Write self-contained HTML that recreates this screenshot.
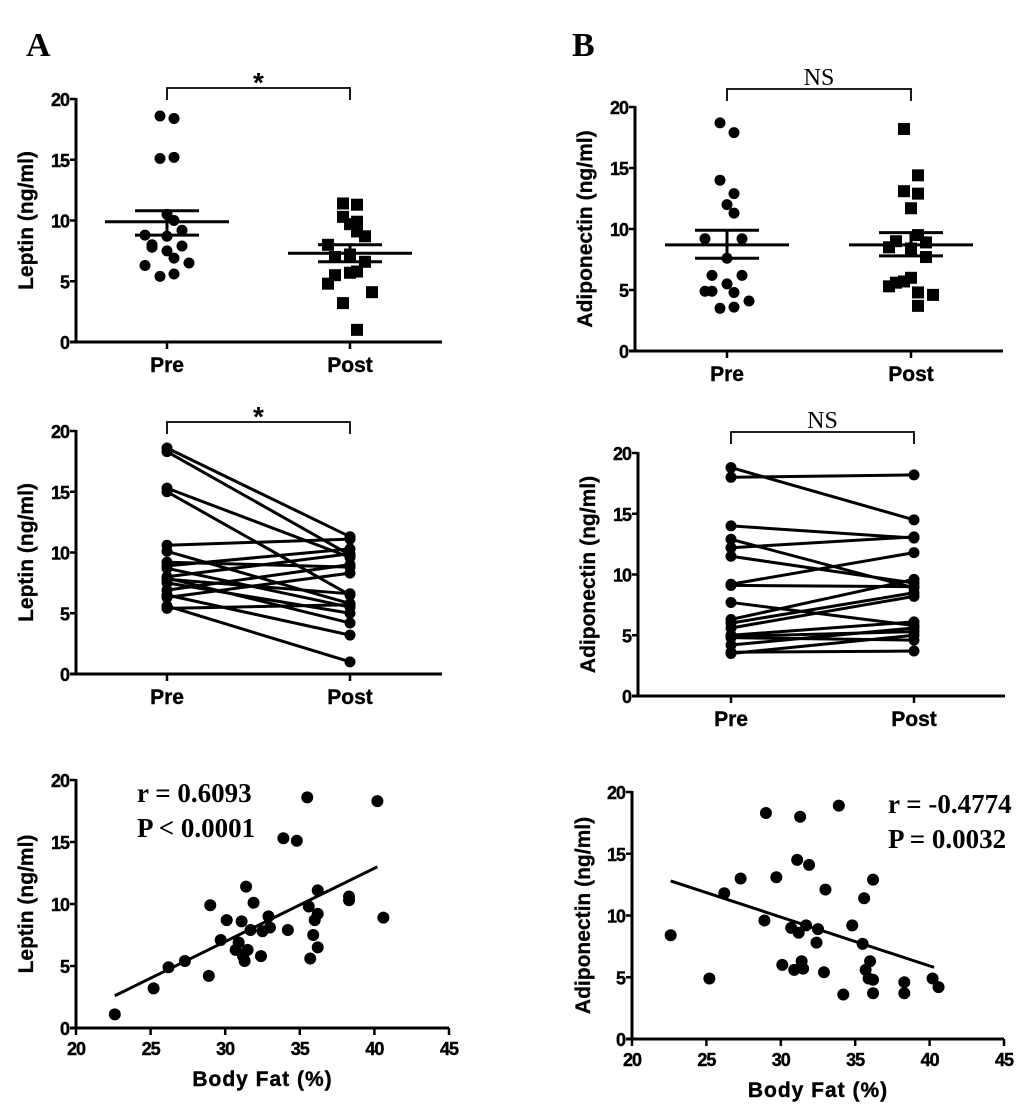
<!DOCTYPE html>
<html><head><meta charset="utf-8">
<style>
html,body{margin:0;padding:0;background:#fff;}
svg{display:block;}
.tk{font-family:"Liberation Sans",sans-serif;font-weight:bold;font-size:18px;fill:#000;letter-spacing:-1px;stroke:#000;stroke-width:0.4;}
.cat{font-family:"Liberation Sans",sans-serif;font-weight:bold;font-size:21px;fill:#000;stroke:#000;stroke-width:0.4;}
.yt{font-family:"Liberation Sans",sans-serif;font-weight:bold;font-size:21px;fill:#000;stroke:#000;stroke-width:0.3;}
.sig{font-family:"Liberation Serif",serif;font-size:24px;fill:#000;}
.star{font-family:"Liberation Sans",sans-serif;font-weight:bold;font-size:28px;fill:#000;}
.stat{font-family:"Liberation Serif",serif;font-weight:bold;font-size:27px;fill:#000;}
.pl{font-family:"Liberation Serif",serif;font-weight:bold;font-size:34px;fill:#000;}
</style></head>
<body>
<svg id="fig" width="1033" height="1107" viewBox="0 0 1033 1107" xmlns="http://www.w3.org/2000/svg">
<text class="pl" x="26" y="56">A</text>
<text class="pl" x="572" y="56">B</text>
</svg>
<script>
// ---------- Data ----------
const categories = ["Pre", "Post"];
const yTicks = [0, 5, 10, 15, 20];
const xTicks = [20, 25, 30, 35, 40, 45];

const leptinPre = [18.6,18.4,15.1,15.2,10.5,10.0,9.2,8.8,8.7,8.0,7.9,7.5,7.8,6.9,6.3,6.5,5.4,5.6];
const leptinPost = [11.4,11.3,10.3,9.9,9.7,9.1,8.7,8.0,7.2,7.0,6.6,5.7,5.5,5.8,4.8,4.1,3.2,1.0];
const leptinMean = [9.9, 7.3];
const leptinSemLow = [8.8, 6.6];
const leptinSemHigh = [10.8, 8.0];

const leptinPairPre  = [18.6,18.3,15.3,15.0,10.6,10.1,9.2,8.9,8.7,8.0,7.9,7.8,7.5,6.9,6.3,6.5,5.6,5.4];
const leptinPairPost = [11.3,9.8,9.6,6.5,11.1,5.8,8.8,10.3,5.5,9.9,4.2,6.6,5.0,9.0,8.3,3.2,1.0,5.7];

const adipoPre = [18.7,17.9,14.0,12.9,12.0,11.3,9.2,9.2,7.6,6.2,6.2,5.5,4.9,4.8,4.9,4.1,3.5,3.6];
const adipoPost = [18.2,14.4,13.1,12.9,11.7,9.5,8.9,8.5,8.4,9.0,7.7,6.0,5.6,4.8,5.3,4.6,5.7,3.7];
const adipoMean = [8.7, 8.7];
const adipoSemLow = [7.6, 7.8];
const adipoSemHigh = [9.9, 9.7];

const adipoPairPre  = [18.8,18.0,14.0,12.9,12.2,11.5,9.2,9.1,7.7,6.3,6.0,5.6,5.0,4.9,4.8,4.2,3.6,3.5];
const adipoPairPost = [14.5,18.2,13.0,8.9,13.1,9.3,11.8,9.0,5.8,9.6,8.5,8.2,6.1,5.3,4.6,5.6,3.7,5.0];

const bodyFat = [22.6,25.2,26.2,27.3,28.9,29.0,29.7,30.1,30.7,30.9,31.1,31.2,31.3,31.5,31.4,31.7,31.9,32.4,32.5,32.9,33.0,34.2,33.9,34.8,35.5,35.6,35.7,35.9,36.0,36.2,36.2,36.2,38.3,38.3,40.2,40.6];
const leptinCorr = [1.1,3.2,4.9,5.4,4.2,9.9,7.1,8.7,6.3,6.9,8.6,5.8,5.4,6.3,11.4,7.9,10.1,5.8,7.8,9.0,8.1,7.9,15.3,15.1,18.6,9.8,5.6,7.5,8.7,9.2,6.5,11.1,10.6,10.3,18.3,8.9];
const adipoCorr = [8.4,4.9,11.8,13.0,9.6,18.3,13.1,6.0,9.0,5.6,14.5,8.6,18.0,5.7,6.3,9.2,14.1,7.8,8.9,5.4,12.1,3.6,18.9,9.2,7.7,11.4,5.6,4.9,6.3,4.8,3.7,12.9,4.6,3.7,4.9,4.2];
const leptinFitX = [22.6, 40.2];
const leptinFitY = [2.6, 13.0];
const adipoFitX = [22.6, 40.3];
const adipoFitY = [12.8, 5.8];

// ---------- Helpers ----------
const NS = "http://www.w3.org/2000/svg";
const svg = document.getElementById("fig");
function mk(tag, attrs, parent) {
  const e = document.createElementNS(NS, tag);
  for (const k in attrs) e.setAttribute(k, attrs[k]);
  (parent || svg).appendChild(e);
  return e;
}
function yScale(p) { return v => p.y0 + (p.y20 - p.y0) * v / 20; }

function drawYAxis(p, title, name) {
  const y = yScale(p);
  const g = mk("g", {});
  
  
  const ax = mk("line", {x1: p.ax, y1: p.y20 - 1, x2: p.ax, y2: p.y0 + 1.5, stroke: "#000", "stroke-width": 3}, g);
  
  
  yTicks.forEach(t => {
    const tl = mk("line", {x1: p.ax - 6, y1: y(t), x2: p.ax, y2: y(t), stroke: "#000", "stroke-width": 2.5}, g);
    
    
    const tx = mk("text", {class: "tk", x: p.ax - 7, y: y(t) + 7, "text-anchor": "end"}, g);
    tx.textContent = t;
    
    
  });
  const cy = (p.y0 + p.y20) / 2;
  const tt = mk("text", {class: "yt", x: p.titleX, y: cy, transform: `rotate(-90 ${p.titleX} ${cy})`, "text-anchor": "middle"}, g);
  tt.textContent = title;
  
  
}

function drawCatXAxis(p, name) {
  const g = mk("g", {});
  
  
  const ax = mk("line", {x1: p.ax - 6, y1: p.y0, x2: p.xEnd, y2: p.y0, stroke: "#000", "stroke-width": 3}, g);
  
  
  categories.forEach((c, i) => {
    const cx = p.cx[i];
    const tl = mk("line", {x1: cx, y1: p.y0, x2: cx, y2: p.y0 + 7, stroke: "#000", "stroke-width": 2.5}, g);
    
    
    const tx = mk("text", {class: "cat", x: cx, y: p.y0 + 30, "text-anchor": "middle"}, g);
    tx.textContent = c;
    
    
  });
}

function drawBracket(p, label, cls, name) {
  const g = mk("g", {});
  
  
  mk("path", {d: `M${p.cx[0]} ${p.by + 12} V${p.by} H${p.cx[1]} V${p.by + 12}`, fill: "none", stroke: "#000", "stroke-width": 1.8}, g);
  const t = mk("text", {class: cls, x: (p.cx[0] + p.cx[1]) / 2, y: cls === "star" ? p.by + 4 : p.by - 4, "text-anchor": "middle"}, g);
  t.textContent = label;
  
  
}

function dotPlot(p, vals, i, square, name) {
  const y = yScale(p);
  const g = mk("g", {});
  
  
  vals.forEach((v, k) => {
    const off = [-7, 7, -7, 7, 0, 7, 15, -22, 0, -15, 15, 0, -15, 7, -22, 22, -7, 7][k % 18];
    const cx = p.cx[i] + off;
    let m;
    if (square) m = mk("rect", {x: cx - 6, y: y(v) - 6, width: 12, height: 12, fill: "#000"}, g);
    else m = mk("circle", {cx: cx, cy: y(v), r: 5.5, fill: "#000"}, g);
    
    
  });
}

function meanSem(p, mean, lo, hi, name) {
  const y = yScale(p);
  const g = mk("g", {});
  
  
  categories.forEach((c, i) => {
    const cx = p.cx[i];
    const a = mk("line", {x1: cx - 62, x2: cx + 62, y1: y(mean[i]), y2: y(mean[i]), stroke: "#000", "stroke-width": 3}, g);
    
    
    const b = mk("line", {x1: cx - 32, x2: cx + 32, y1: y(hi[i]), y2: y(hi[i]), stroke: "#000", "stroke-width": 3}, g);
    
    
    const d = mk("line", {x1: cx - 32, x2: cx + 32, y1: y(lo[i]), y2: y(lo[i]), stroke: "#000", "stroke-width": 3}, g);
    
    
    const e = mk("line", {x1: cx, x2: cx, y1: y(lo[i]), y2: y(hi[i]), stroke: "#000", "stroke-width": 3}, g);
    
    
  });
}

function pairPlot(p, pre, post, name) {
  const y = yScale(p);
  const g = mk("g", {});
  
  
  pre.forEach((v, k) => {
    const l = mk("line", {x1: p.cx[0], y1: y(v), x2: p.cx[1], y2: y(post[k]), stroke: "#000", "stroke-width": 3}, g);
    
    
    const c1 = mk("circle", {cx: p.cx[0], cy: y(v), r: 5.5, fill: "#000"}, g);
    
    
    const c2 = mk("circle", {cx: p.cx[1], cy: y(post[k]), r: 5.5, fill: "#000"}, g);
    
    
  });
}

function scatter(p, xs, ys, fx, fy, title, stats, name) {
  const y = yScale(p);
  const x = v => p.x20 + (p.x45 - p.x20) * (v - 20) / 25;
  drawYAxis({ax: p.x20, y0: p.y0, y20: p.y20, titleX: p.titleX}, title, name);
  const g = mk("g", {});
  
  
  const ax = mk("line", {x1: p.x20 - 6, y1: p.y0, x2: p.x45, y2: p.y0, stroke: "#000", "stroke-width": 3}, g);
  
  
  xTicks.forEach(t => {
    const tl = mk("line", {x1: x(t), y1: p.y0, x2: x(t), y2: p.y0 + 7, stroke: "#000", "stroke-width": 2.5}, g);
    
    
    const tx = mk("text", {class: "tk", x: x(t), y: p.y0 + 27, "text-anchor": "middle"}, g);
    tx.textContent = t;
    
    
  });
  const xt = mk("text", {class: "cat", x: (p.x20 + p.x45) / 2, y: p.y0 + 58, "text-anchor": "middle", "letter-spacing": "1"}, g);
  xt.textContent = "Body Fat (%)";
  
  
  const gp = mk("g", {});
  
  
  xs.forEach((v, k) => {
    const c = mk("circle", {cx: x(v), cy: y(ys[k]), r: 6, fill: "#000"}, gp);
    
    
  });
  const fl = mk("line", {x1: x(fx[0]), y1: y(fy[0]), x2: x(fx[1]), y2: y(fy[1]), stroke: "#000", "stroke-width": 3});
  
  
  stats.forEach((s, k) => {
    const t = mk("text", {class: "stat", x: p.sx, y: p.sy + k * 35});
    t.textContent = s;
    
    
  });
}

// ---------- Panels ----------
const pA1 = {ax: 76, y0: 342, y20: 99, xEnd: 442, cx: [167, 350], by: 88, titleX: 33};
drawYAxis(pA1, "Leptin (ng/ml)", "leptin-dot");
drawCatXAxis(pA1, "leptin-dot");
drawBracket(pA1, "*", "star", "leptin-dot");
dotPlot(pA1, leptinPre, 0, false, "leptin-pre-points");
dotPlot(pA1, leptinPost, 1, true, "leptin-post-points");
meanSem(pA1, leptinMean, leptinSemLow, leptinSemHigh, "leptin-mean-sem");

const pA2 = {ax: 76, y0: 674, y20: 431, xEnd: 442, cx: [167, 350], by: 422, titleX: 33};
drawYAxis(pA2, "Leptin (ng/ml)", "leptin-paired");
drawCatXAxis(pA2, "leptin-paired");
drawBracket(pA2, "*", "star", "leptin-paired");
pairPlot(pA2, leptinPairPre, leptinPairPost, "leptin-paired-lines");

scatter({x20: 76, x45: 449, y0: 1028, y20: 780, titleX: 33, sx: 137, sy: 802},
  bodyFat, leptinCorr, leptinFitX, leptinFitY, "Leptin (ng/ml)", ["r = 0.6093", "P < 0.0001"], "leptin-corr");

const pB1 = {ax: 635, y0: 351, y20: 107, xEnd: 1003, cx: [727, 911], by: 89, titleX: 592};
drawYAxis(pB1, "Adiponectin (ng/ml)", "adipo-dot");
drawCatXAxis(pB1, "adipo-dot");
drawBracket(pB1, "NS", "sig", "adipo-dot");
dotPlot(pB1, adipoPre, 0, false, "adipo-pre-points");
dotPlot(pB1, adipoPost, 1, true, "adipo-post-points");
meanSem(pB1, adipoMean, adipoSemLow, adipoSemHigh, "adipo-mean-sem");

const pB2 = {ax: 638, y0: 696, y20: 453, xEnd: 1005, cx: [731, 914], by: 432, titleX: 595};
drawYAxis(pB2, "Adiponectin (ng/ml)", "adipo-paired");
drawCatXAxis(pB2, "adipo-paired");
drawBracket(pB2, "NS", "sig", "adipo-paired");
pairPlot(pB2, adipoPairPre, adipoPairPost, "adipo-paired-lines");

scatter({x20: 632, x45: 1004, y0: 1039, y20: 792, titleX: 590, sx: 888, sy: 813},
  bodyFat, adipoCorr, adipoFitX, adipoFitY, "Adiponectin (ng/ml)", ["r = -0.4774", "P = 0.0032"], "adipo-corr");
</script>
</body></html>
